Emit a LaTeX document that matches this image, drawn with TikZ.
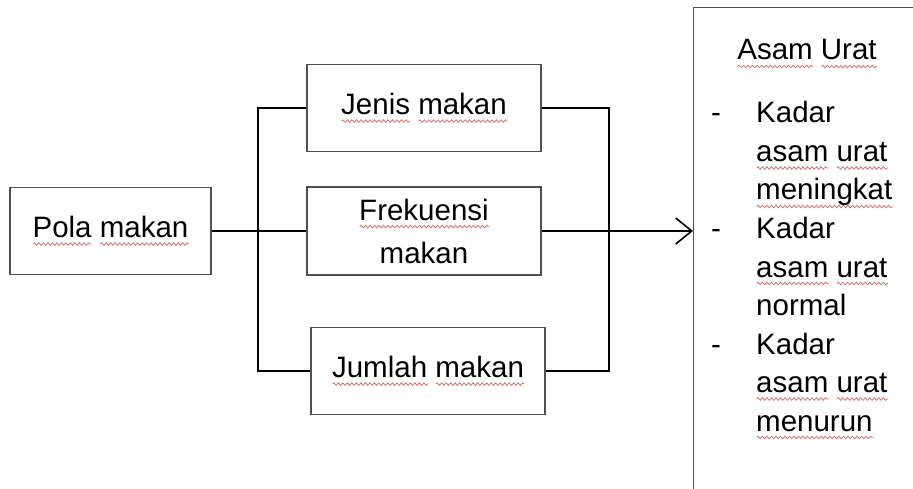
\documentclass[tikz,border=0pt]{standalone}
\usepackage{fontspec}
\setmainfont{Liberation Sans}
\usetikzlibrary{arrows.meta,decorations.pathmorphing}
\definecolor{boxgray}{RGB}{80,80,80}
\definecolor{squig}{RGB}{205,110,110}
\newsavebox\sqbox
\newcommand\sqw[1]{\sbox\sqbox{#1}\rlap{\raisebox{-6.5pt}{\tikz[baseline=0pt]\draw[squig, line width=0.75pt, decorate, decoration={snake, segment length=4.5pt, amplitude=1.3pt}] (0pt,0pt) -- (\the\wd\sqbox,0pt);}}\usebox\sqbox}
\tikzset{
  box/.style={draw=boxgray, line width=1.3pt, inner sep=0pt, align=center,
    minimum width=234pt, minimum height=87pt},
  conn/.style={draw=black, line width=1.7pt},
  arr/.style={conn, -{Straight Barb[length=16pt,width=26pt,line width=1.6pt]}},
  txt/.style={inner sep=0pt, anchor=base west},
}
\begin{document}
\begin{tikzpicture}[x=1pt,y=-1pt,font=\fontsize{29.5}{38.5}\selectfont]
\useasboundingbox (0,0) rectangle (913,489);
\clip (0,0) rectangle (913,489);
% boxes
\node[box, minimum width=201pt] (pola) at (110.5,231) {\sqw{Pola} \sqw{makan}};
\node[box] (jenis) at (424,108) {\sqw{Jenis} \sqw{makan}};
\node[box, minimum height=88pt, font=\fontsize{29.5}{43}\selectfont] (frek) at (424,231) {\sqw{Frekuensi}\\makan};
\node[box] (jumlah) at (428,371) {\sqw{Jumlah} \sqw{makan}};
\node[draw=boxgray, line width=1.3pt, minimum width=300pt, minimum height=520pt, inner sep=0pt, anchor=north west] (asam) at (693,7) {};
% bus coordinates
\coordinate (lb) at (258,0);
\coordinate (rb) at (609,0);
% connectors
\draw[conn] (pola.east) -- (pola.east -| frek.west);
\draw[conn] (jenis.west) -- (jenis.west -| lb) -- (jumlah.west -| lb) -- (jumlah.west);
\draw[conn] (jenis.east) -- (jenis.east -| rb) -- (jumlah.east -| rb) -- (jumlah.east);
\draw[arr] (frek.east) -- (frek.east -| asam.west);
% right box text
\node[inner sep=0pt, anchor=base] (title) at (807,60) {\sqw{Asam} \sqw{Urat}};
\node[txt] (d1) at (711,123) {-};
\node[txt] (d2) at (711,238.5) {-};
\node[txt] (d3) at (711,354) {-};
\node[txt] (l1) at (756,123) {Kadar};
\node[txt] (l2) at (756,161.5) {\sqw{asam} \sqw{urat}};
\node[txt] (l3) at (756,200) {\sqw{meningkat}};
\node[txt] (l4) at (756,238.5) {Kadar};
\node[txt] (l5) at (756,277) {\sqw{asam} \sqw{urat}};
\node[txt] (l6) at (756,315.5) {normal};
\node[txt] (l7) at (756,354) {Kadar};
\node[txt] (l8) at (756,392.5) {\sqw{asam} \sqw{urat}};
\node[txt] (l9) at (756,431) {\sqw{menurun}};
\end{tikzpicture}
\end{document}
